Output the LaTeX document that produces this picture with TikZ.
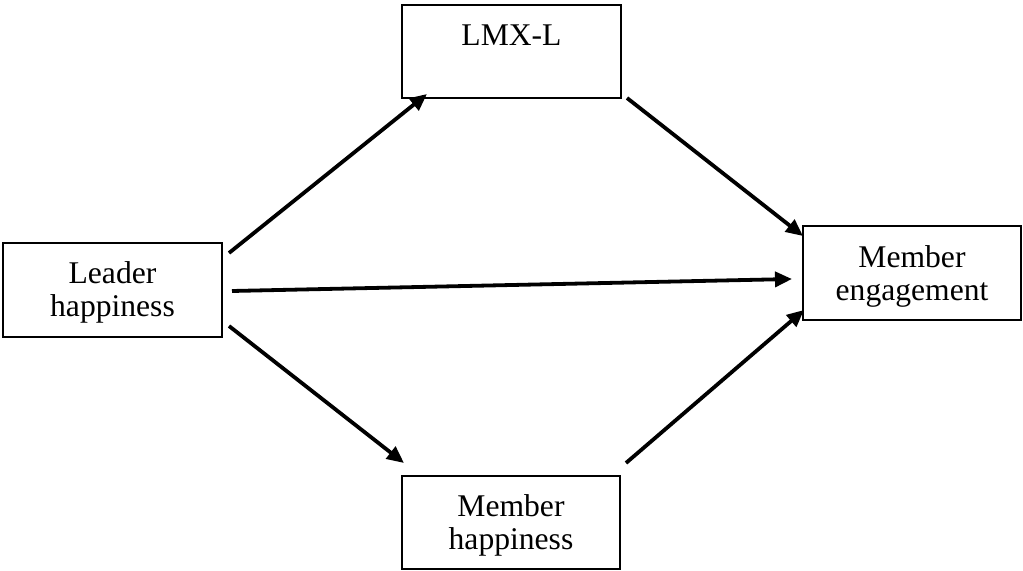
\documentclass[tikz,border=0pt]{standalone}
\usepackage{fontspec}
\setmainfont{Liberation Serif}
\usetikzlibrary{arrows.meta,calc}
\begin{document}
\begin{tikzpicture}[x=0.5pt,y=-0.5pt,
  box/.style={draw,line width=0.9pt,rectangle,inner sep=0pt,outer sep=0pt},
  lbl/.style={inner sep=0pt,outer sep=0pt,align=center,
    font=\fontsize{15.8}{16.5}\selectfont},
  arr/.style={line width=1.9pt,-{Triangle[length=8.5pt,width=7.5pt]}}]
\useasboundingbox (0,0) rectangle (1023,571);
\node[box,minimum width=109.5pt,minimum height=47pt] (lead) at (112.5,290) {};
\node[box,minimum width=109.5pt,minimum height=46.5pt] (lmx) at (511.5,51.5) {};
\node[box,minimum width=109pt,minimum height=47pt] (eng) at (912,273) {};
\node[box,minimum width=109pt,minimum height=46.5pt] (mh) at (511,522.5) {};
\node[lbl] (leadtxt) at (112.5,292) {Leader\\happiness};
\node[lbl,anchor=base] (lmxtxt) at (511.5,46) {LMX-L};
\node[lbl] (engtxt) at (912,276) {Member\\engagement};
\node[lbl] (mhtxt) at (511,525) {Member\\happiness};
\coordinate (a1s) at ($(lead.north east)+(7,10)$);
\coordinate (a1e) at ($(lmx.south west)+(25,-4)$);
\coordinate (a2s) at ($(lead.east)+(10,1)$);
\coordinate (a2e) at ($(eng.west)+(-11,6)$);
\coordinate (a3s) at ($(lead.south east)+(7,-11)$);
\coordinate (a3e) at ($(mh.north west)+(2,-13)$);
\coordinate (a4s) at ($(lmx.south east)+(6,0)$);
\coordinate (a4e) at ($(eng.north west)+(0,10)$);
\coordinate (a5s) at ($(mh.north east)+(6,-13)$);
\coordinate (a5e) at ($(eng.south west)+(1,-10)$);
\draw[arr] (a1s) -- (a1e);
\draw[arr] (a2s) -- (a2e);
\draw[arr] (a3s) -- (a3e);
\draw[arr] (a4s) -- (a4e);
\draw[arr] (a5s) -- (a5e);
\end{tikzpicture}
\end{document}
